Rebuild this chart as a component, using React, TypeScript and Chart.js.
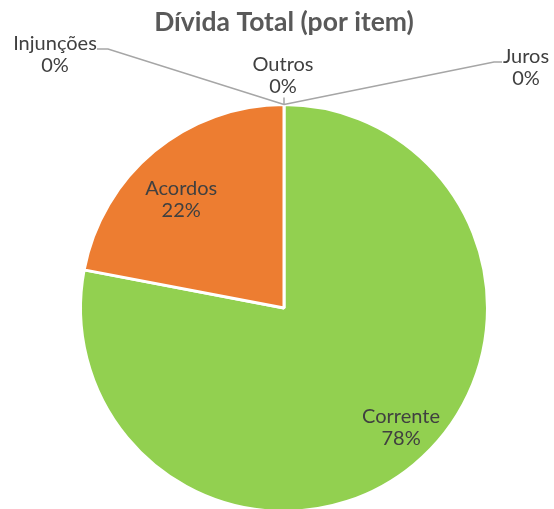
import React, { useEffect, useRef } from "react";
import { Chart, registerables } from "chart.js";

Chart.register(...registerables);

const TITLE = "Dívida Total (por item)";
const CATEGORIES = ["Corrente", "Acordos", "Juros", "Injunções", "Outros"];
const VALUES = [78, 22, 0, 0, 0];
const COLORS = ["#92D050", "#ED7D31", "#A5A5A5", "#FFC000", "#5B9BD5"];

const FONT = "Lato, 'Open Sans', sans-serif";
const TEXT_COLOR = "#404040";
const LEADER_COLOR = "#A6A6A6";
const LINE_GAP = 22;

// placement of labels inside slices: fraction of radius and angular shift (degrees)
const INSIDE: Record<string, { r: number; shift: number }> = {
  Corrente: { r: 0.805, shift: -6 },
  Acordos: { r: 0.752, shift: -2.6 },
};

// leader layout for zero-value slices, relative to the slice's point on the rim
const LEADERS: Record<string, { elbowDx: number; elbowDy: number; endDx: number; textDx: number; textDy: number }> = {
  Juros: { elbowDx: 210, elbowDy: -42.5, endDx: 218, textDx: 242, textDy: -41.5 },
  "Injunções": { elbowDx: -176, elbowDy: -55.5, endDx: -187, textDx: -229, textDy: -54.5 },
  Outros: { elbowDx: 0, elbowDy: -7, endDx: 0, textDx: -1, textDy: -33.5 },
};

const labelPlugin = {
  id: "sliceLabels",
  afterDatasetsDraw(chart: any) {
    const ctx = chart.ctx;
    const meta = chart.getDatasetMeta(0);
    const data = chart.data.datasets[0].data as number[];
    const total = data.reduce((a, b) => a + b, 0);
    ctx.save();
    ctx.font = `20px ${FONT}`;
    ctx.fillStyle = TEXT_COLOR;
    ctx.textAlign = "center";
    ctx.textBaseline = "alphabetic";
    meta.data.forEach((arc: any, i: number) => {
      const p = arc.getProps(["x", "y", "startAngle", "endAngle", "outerRadius"], true);
      const name = chart.data.labels[i] as string;
      const pct = Math.round((data[i] / total) * 100) + "%";
      if (data[i] > 0) {
        const cfg = INSIDE[name] || { r: 0.78, shift: 0 };
        const mid = (p.startAngle + p.endAngle) / 2 + (cfg.shift * Math.PI) / 180;
        const r = p.outerRadius * cfg.r;
        const cx = p.x + Math.cos(mid) * r;
        const cy = p.y + Math.sin(mid) * r;
        ctx.fillText(name, cx, cy);
        ctx.fillText(pct, cx, cy + LINE_GAP);
      } else {
        const L = LEADERS[name];
        const ax = p.x + Math.cos(p.startAngle) * p.outerRadius;
        const ay = p.y + Math.sin(p.startAngle) * p.outerRadius;
        ctx.strokeStyle = LEADER_COLOR;
        ctx.lineWidth = 1.5;
        ctx.beginPath();
        ctx.moveTo(ax, ay);
        ctx.lineTo(ax + L.elbowDx, ay + L.elbowDy);
        ctx.lineTo(ax + L.endDx, ay + L.elbowDy);
        ctx.stroke();
        const tx = ax + L.textDx;
        const ty = ay + L.textDy;
        ctx.fillText(name, tx, ty);
        ctx.fillText(pct, tx, ty + LINE_GAP);
      }
    });
    ctx.restore();
  },
};

const titlePlugin = {
  id: "customTitle",
  afterDraw(chart: any) {
    const ctx = chart.ctx;
    ctx.save();
    ctx.font = `bold 26.5px ${FONT}`;
    ctx.fillStyle = "#595959";
    ctx.textAlign = "center";
    ctx.textBaseline = "alphabetic";
    ctx.fillText(TITLE, 284, 31);
    ctx.restore();
  },
};

export default function App() {
  const ref = useRef<HTMLCanvasElement>(null);
  useEffect(() => {
    if (!ref.current) return;
    const chart = new Chart(ref.current, {
      type: "pie",
      data: {
        labels: CATEGORIES,
        datasets: [
          {
            data: VALUES,
            backgroundColor: COLORS,
            borderColor: "#FFFFFF",
            borderWidth: 3,
          },
        ],
      },
      options: {
        responsive: false,
        animation: false,
        layout: { padding: { left: 79, right: 65, top: 103, bottom: 7 } },
        plugins: {
          legend: { display: false },
          title: { display: false },
          tooltip: { enabled: false },
        },
      },
      plugins: [labelPlugin, titlePlugin],
    });
    return () => chart.destroy();
  }, []);
  return (
    <div style={{ position: "fixed", left: 0, top: 0, width: 554, height: 509, overflow: "hidden", background: "#fff" }}>
      <canvas ref={ref} width={554} height={520} style={{ width: 554, height: 520, display: "block" }} />
    </div>
  );
}
